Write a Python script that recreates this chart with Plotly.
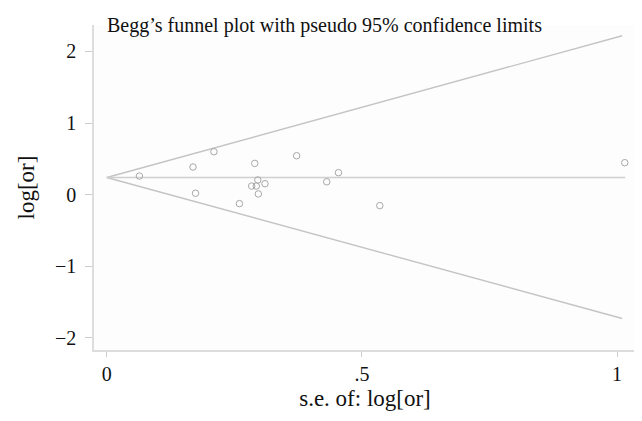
import plotly.graph_objects as go

# study points: standard error vs log odds ratio
se = [0.064, 0.169, 0.174, 0.210, 0.260, 0.284, 0.290, 0.293, 0.296, 0.297,
      0.310, 0.372, 0.431, 0.454, 0.535, 1.015]
logor = [0.26, 0.386, 0.02, 0.60, -0.125, 0.12, 0.437, 0.12, 0.205, 0.01,
         0.153, 0.544, 0.18, 0.307, -0.153, 0.446]

# pooled estimate and pseudo 95% limits
pooled_x = [0, 1.016]
pooled_y = [0.24, 0.24]
upper_x = [0, 1.01]
upper_y = [0.24, 2.22]
lower_x = [0, 1.01]
lower_y = [0.24, -1.73]

xticks = [0, 0.5, 1]
xticklabels = ["0", ".5", "1"]
yticks = [-2, -1, 0, 1, 2]

font = "Liberation Serif, Times New Roman, serif"
linecol = "#c4c4c4"

fig = go.Figure()
fig.add_trace(go.Scatter(x=upper_x, y=upper_y, mode="lines",
                         line=dict(color=linecol, width=1.4), hoverinfo="skip"))
fig.add_trace(go.Scatter(x=lower_x, y=lower_y, mode="lines",
                         line=dict(color=linecol, width=1.4), hoverinfo="skip"))
fig.add_trace(go.Scatter(x=pooled_x, y=pooled_y, mode="lines",
                         line=dict(color="#d0d0d0", width=1.4), hoverinfo="skip"))
fig.add_trace(go.Scatter(x=se, y=logor, mode="markers",
                         marker=dict(symbol="circle-open", size=6.5,
                                     color="#a8a8a8", line=dict(width=1))))

fig.add_annotation(text="Begg\u2019s funnel plot with pseudo 95% confidence limits",
                   xref="paper", yref="paper", x=0.02, y=1.0,
                   xanchor="left", yanchor="top", showarrow=False, yshift=13,
                   font=dict(family=font, size=20, color="#111"))

fig.update_layout(
    width=642, height=421,
    margin=dict(l=86, r=14, t=17, b=79),
    showlegend=False,
    paper_bgcolor="white",
    plot_bgcolor="#fdfdfd",
    font=dict(family=font, size=20, color="#111"),
    xaxis=dict(range=[-0.025, 1.037], tickvals=xticks, ticktext=xticklabels,
               showgrid=False, zeroline=False, showline=True,
               linecolor="#dddddd", linewidth=1.5, mirror=False,
               ticks="outside", ticklen=5, tickcolor="#cccccc",
               title=dict(text="s.e. of: log[or]", standoff=6,
                          font=dict(size=23))),
    yaxis=dict(range=[-2.17, 2.37], tickvals=yticks,
               showgrid=False, zeroline=False, showline=True,
               linecolor="#dddddd", linewidth=1.5,
               ticks="outside", ticklen=7, tickcolor="#cccccc",
               ticklabelstandoff=5,
               title=dict(text="log[or]", standoff=14,
                          font=dict(size=23))),
)

fig.write_html("out.html")
